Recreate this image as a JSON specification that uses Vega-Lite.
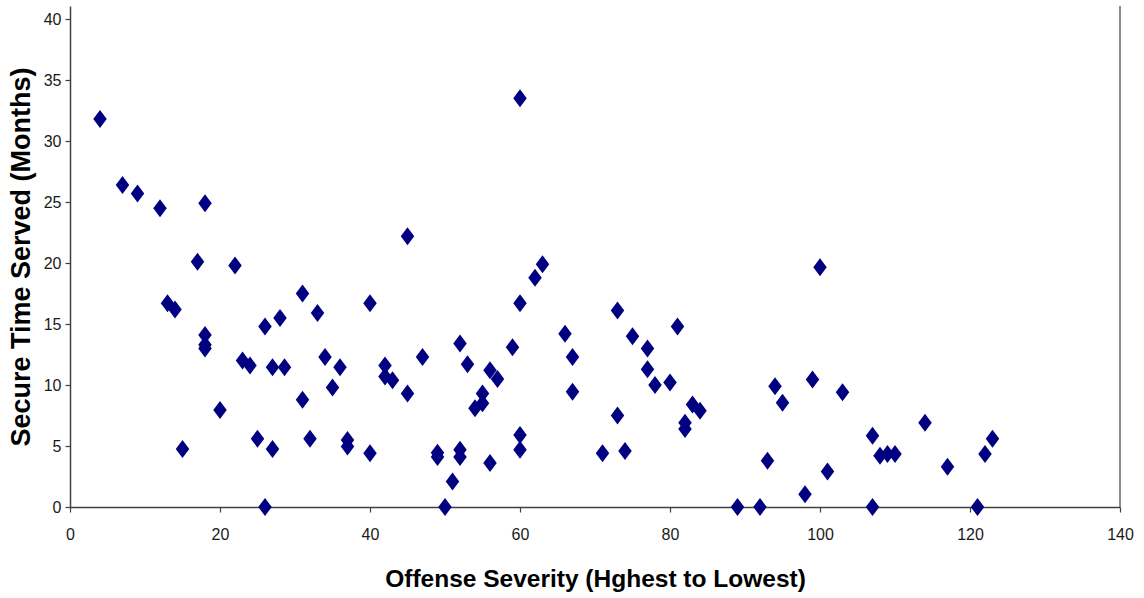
{
  "$schema": "https://vega.github.io/schema/vega-lite/v6.json",
  "autosize": "none",
  "width": 1050,
  "height": 501,
  "padding": {"left": 70, "top": 6, "right": 24, "bottom": 91},
  "background": "white",
  "config": {
    "view": {"stroke": null},
    "axis": {
      "grid": false,
      "labelFont": "Liberation Sans",
      "labelFontSize": 16,
      "labelColor": "#1a1a1a",
      "labelFlush": false,
      "domainColor": "#404040",
      "domainWidth": 1.5,
      "tickColor": "#404040",
      "tickWidth": 1.2,
      "tickSize": 5,
      "titleFont": "Liberation Sans",
      "titleFontWeight": "bold",
      "titleColor": "#000000"
    }
  },
  "data": {
    "values": [
      {"severity": 4, "months": 31.8}, {"severity": 7, "months": 26.4}, {"severity": 9, "months": 25.7},
      {"severity": 12, "months": 24.5}, {"severity": 18, "months": 24.9}, {"severity": 17, "months": 20.1},
      {"severity": 22, "months": 19.8}, {"severity": 13, "months": 16.7}, {"severity": 14, "months": 16.2},
      {"severity": 15, "months": 4.75}, {"severity": 18, "months": 14.1}, {"severity": 18, "months": 13.3},
      {"severity": 18, "months": 13.0}, {"severity": 20, "months": 7.95}, {"severity": 23, "months": 12.0},
      {"severity": 24, "months": 11.6}, {"severity": 25, "months": 5.6}, {"severity": 26, "months": 0},
      {"severity": 26, "months": 14.8}, {"severity": 27, "months": 4.75}, {"severity": 27, "months": 11.45},
      {"severity": 28, "months": 15.5}, {"severity": 28.6, "months": 11.45}, {"severity": 31, "months": 17.5},
      {"severity": 31, "months": 8.8}, {"severity": 32, "months": 5.6}, {"severity": 33, "months": 15.9},
      {"severity": 34, "months": 12.3}, {"severity": 35, "months": 9.8}, {"severity": 36, "months": 11.45},
      {"severity": 37, "months": 5.5}, {"severity": 37, "months": 4.95}, {"severity": 40, "months": 16.7},
      {"severity": 40, "months": 4.4}, {"severity": 42, "months": 11.6}, {"severity": 42, "months": 10.7},
      {"severity": 43, "months": 10.4}, {"severity": 45, "months": 22.2}, {"severity": 45, "months": 9.3},
      {"severity": 47, "months": 12.3}, {"severity": 49, "months": 4.45}, {"severity": 49, "months": 4.1},
      {"severity": 50, "months": 0}, {"severity": 51, "months": 2.1}, {"severity": 52, "months": 13.4},
      {"severity": 52, "months": 4.7}, {"severity": 52, "months": 4.1}, {"severity": 53, "months": 11.7},
      {"severity": 54, "months": 8.1}, {"severity": 55, "months": 9.3}, {"severity": 55, "months": 8.5},
      {"severity": 56, "months": 11.2}, {"severity": 56, "months": 3.6}, {"severity": 57, "months": 10.5},
      {"severity": 59, "months": 13.1}, {"severity": 60, "months": 33.5}, {"severity": 60, "months": 16.7},
      {"severity": 60, "months": 5.9}, {"severity": 60, "months": 4.7}, {"severity": 62, "months": 18.8},
      {"severity": 63, "months": 19.9}, {"severity": 66, "months": 14.2}, {"severity": 67, "months": 12.3},
      {"severity": 67, "months": 9.45}, {"severity": 71, "months": 4.4}, {"severity": 73, "months": 16.1},
      {"severity": 73, "months": 7.5}, {"severity": 74, "months": 4.6}, {"severity": 75, "months": 14.0},
      {"severity": 77, "months": 13.0}, {"severity": 77, "months": 11.3}, {"severity": 78, "months": 10.0},
      {"severity": 80, "months": 10.2}, {"severity": 81, "months": 14.8}, {"severity": 82, "months": 6.9},
      {"severity": 82, "months": 6.4}, {"severity": 83, "months": 8.4}, {"severity": 84, "months": 7.9},
      {"severity": 89, "months": 0}, {"severity": 92, "months": 0}, {"severity": 93, "months": 3.8},
      {"severity": 94, "months": 9.9}, {"severity": 95, "months": 8.55}, {"severity": 98, "months": 1.04},
      {"severity": 99, "months": 10.45}, {"severity": 100, "months": 19.65}, {"severity": 101, "months": 2.9},
      {"severity": 103, "months": 9.4}, {"severity": 107, "months": 5.85}, {"severity": 107, "months": 0},
      {"severity": 108, "months": 4.2}, {"severity": 109, "months": 4.35}, {"severity": 110, "months": 4.35},
      {"severity": 114, "months": 6.9}, {"severity": 117, "months": 3.3}, {"severity": 121, "months": 0},
      {"severity": 122, "months": 4.35}, {"severity": 123, "months": 5.6}
    ]
  },
  "layer": [
    {
      "mark": {"type": "rule", "color": "#8c8c8c", "strokeWidth": 2},
      "encoding": {"x": {"datum": 140, "type": "quantitative"}}
    },
    {
      "mark": {
        "type": "point",
        "shape": "M0,-1L0.75,0L0,1L-0.75,0Z",
        "filled": true,
        "size": 324,
        "color": "#000080",
        "opacity": 1,
        "strokeWidth": 0
      },
      "encoding": {
        "x": {
          "field": "severity",
          "type": "quantitative",
          "scale": {"domain": [0, 140], "nice": false, "zero": false},
          "axis": {
            "values": [0, 20, 40, 60, 80, 100, 120, 140],
            "title": "Offense Severity (Hghest to Lowest)",
            "titleFontSize": 24.5,
            "titlePadding": 25,
            "labelPadding": 14
          }
        },
        "y": {
          "field": "months",
          "type": "quantitative",
          "scale": {"domain": [0, 41.07], "nice": false, "zero": false},
          "axis": {
            "values": [0, 5, 10, 15, 20, 25, 30, 35, 40],
            "title": "Secure Time Served (Months)",
            "titleFontSize": 27,
            "titlePadding": 8,
            "labelPadding": 4
          }
        }
      }
    }
  ]
}
